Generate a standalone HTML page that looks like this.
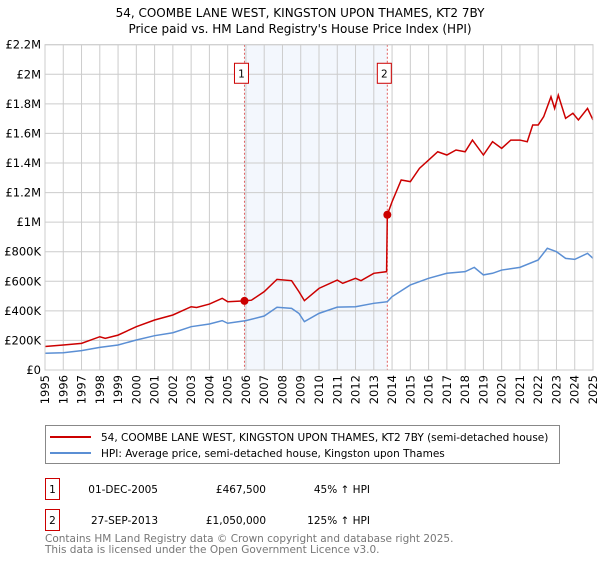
<!DOCTYPE html>
<html><head><meta charset="utf-8"><style>
body{margin:0;background:#fff;font-family:"DejaVu Sans","Liberation Sans",sans-serif;}
svg text{font-family:"DejaVu Sans","Liberation Sans",sans-serif;}
</style></head><body>
<svg id="chart" width="600" height="560" xmlns="http://www.w3.org/2000/svg">
<text x="300" y="17" text-anchor="middle" font-size="12" fill="#000">54, COOMBE LANE WEST, KINGSTON UPON THAMES, KT2 7BY</text>
<text x="300" y="33" text-anchor="middle" font-size="12" fill="#000">Price paid vs. HM Land Registry's House Price Index (HPI)</text>
<g id="plot"></g>
<g>
<rect x="45.5" y="425.5" width="514" height="38" fill="#fff" stroke="#888"/>
<line x1="50" y1="437" x2="91" y2="437" stroke="#cc0000" stroke-width="2"/>
<text x="101" y="441" font-size="10.5">54, COOMBE LANE WEST, KINGSTON UPON THAMES, KT2 7BY (semi-detached house)</text>
<line x1="50" y1="453" x2="91" y2="453" stroke="#5b8fd4" stroke-width="2"/>
<text x="101" y="457" font-size="10.5">HPI: Average price, semi-detached house, Kingston upon Thames</text>
</g>
<g font-size="10.5">
<rect x="45.5" y="478.5" width="14" height="21" fill="#fff" stroke="#cc0000"/>
<text x="52.5" y="493" text-anchor="middle">1</text>
<text x="158" y="493" text-anchor="end">01-DEC-2005</text>
<text x="266" y="493" text-anchor="end">£467,500</text>
<text x="370" y="493" text-anchor="end">45% ↑ HPI</text>
<rect x="45.5" y="509.5" width="14" height="21" fill="#fff" stroke="#cc0000"/>
<text x="52.5" y="524" text-anchor="middle">2</text>
<text x="158" y="524" text-anchor="end">27-SEP-2013</text>
<text x="266" y="524" text-anchor="end">£1,050,000</text>
<text x="370" y="524" text-anchor="end">125% ↑ HPI</text>
</g>
<text x="45" y="542" font-size="10.5" fill="#777">Contains HM Land Registry data © Crown copyright and database right 2025.</text>
<text x="45" y="553" font-size="10.5" fill="#777">This data is licensed under the Open Government Licence v3.0.</text>
</svg>
<script>
const yTicks=[0,200000,400000,600000,800000,1000000,1200000,1400000,1600000,1800000,2000000,2200000];
const yTickLabels=["£0","£200K","£400K","£600K","£800K","£1M","£1.2M","£1.4M","£1.6M","£1.8M","£2M","£2.2M"];
const xYears=[1995,1996,1997,1998,1999,2000,2001,2002,2003,2004,2005,2006,2007,2008,2009,2010,2011,2012,2013,2014,2015,2016,2017,2018,2019,2020,2021,2022,2023,2024,2025];
const hpiDates=[1995,1996,1997,1998,1999,2000,2001,2002,2003,2004,2004.7,2005,2006,2007,2007.7,2008.5,2008.9,2009.2,2010,2011,2012,2013,2013.74,2014,2015,2016,2017,2018,2018.5,2019,2019.5,2020,2021,2022,2022.5,2023,2023.5,2024,2024.7,2025];
const hpiValues=[113000,117000,131000,153000,169000,203000,232000,252000,293000,311000,334000,316000,334000,365000,424000,417000,383000,327000,383000,425000,428000,451000,462000,496000,575000,620000,654000,665000,694000,643000,654000,676000,694000,744000,823000,800000,755000,748000,789000,755000];
const priceDates=[1995,1996,1997,1998,1998.3,1999,2000,2001,2002,2003,2003.3,2004,2004.7,2005,2005.92,2006.3,2007,2007.7,2008.5,2008.9,2009.2,2010,2011,2011.3,2012,2012.3,2013,2013.7,2013.74,2014,2014.5,2015,2015.5,2016,2016.5,2017,2017.5,2018,2018.4,2019,2019.5,2020,2020.5,2021,2021.4,2021.7,2022,2022.3,2022.7,2022.9,2023.1,2023.5,2023.9,2024.2,2024.7,2025];
const priceValues=[159000,169000,180000,225000,214000,236000,293000,338000,372000,428000,423000,446000,485000,462000,467500,472000,530000,613000,604000,530000,469000,552000,608000,586000,620000,604000,654000,665000,1050000,1138000,1285000,1274000,1364000,1420000,1476000,1454000,1488000,1476000,1555000,1454000,1544000,1499000,1555000,1555000,1544000,1657000,1657000,1713000,1848000,1769000,1859000,1702000,1736000,1691000,1769000,1691000];
const saleDates=[2005.92,2013.74];
const saleValues=[467500,1050000];
const saleLabels=["1","2"];

const L=45,R=593,T=44.7,B=370;
const X=y=>L+(y-1995)/(2025-1995)*(R-L);
const Y=v=>B-v/2200000*(B-T);
const NS="http://www.w3.org/2000/svg";
const g=document.getElementById('plot');
function mk(tag,attrs,parent){const e=document.createElementNS(NS,tag);for(const k in attrs)e.setAttribute(k,attrs[k]);(parent||g).appendChild(e);return e;}
const bg=mk('rect',{x:L,y:T,width:R-L,height:B-T,fill:'#fff'});


const sh=mk('rect',{x:X(saleDates[0]),y:T,width:X(saleDates[1])-X(saleDates[0]),height:B-T,fill:'#eef3fc',opacity:0.7});


yTicks.forEach((v,i)=>{
 const l=mk('line',{x1:L,x2:R,y1:Y(v),y2:Y(v),stroke:'#cccccc'});
 
 
 const t=mk('text',{x:L-4,y:Y(v)+4,'text-anchor':'end','font-size':'11.5',fill:'#000'});
 t.textContent=yTickLabels[i];
 
 
});
xYears.forEach(yr=>{
 const l=mk('line',{x1:X(yr),x2:X(yr),y1:T,y2:B,stroke:'#cccccc'});
 
 
 const t=mk('text',{x:0,y:0,'text-anchor':'end','font-size':'11.5',fill:'#000',transform:`translate(${X(yr)+4},${B+5}) rotate(-90)`});
 t.textContent=yr;
 
 
});
saleDates.forEach((d,i)=>{
 const l=mk('line',{x1:X(d),x2:X(d),y1:T,y2:B,stroke:'#e06060','stroke-dasharray':'2,2'});
 
 
 const r=mk('rect',{x:X(d)-10,y:Y(2000000)-11,width:14,height:20,fill:'#fff',stroke:'#cc0000'});
 
 
 const t=mk('text',{x:X(d)-3,y:Y(2000000)+3,'text-anchor':'middle','font-size':'10.5'});
 t.textContent=saleLabels[i];
 
 
});
const hp=mk('polyline',{points:hpiDates.map((d,i)=>X(d)+','+Y(hpiValues[i])).join(' '),fill:'none',stroke:'#5b8fd4','stroke-width':1.5});


const pp=mk('polyline',{points:priceDates.map((d,i)=>X(d)+','+Y(priceValues[i])).join(' '),fill:'none',stroke:'#cc0000','stroke-width':1.5});


saleDates.forEach((d,i)=>{
 const c=mk('circle',{cx:X(d),cy:Y(saleValues[i]),r:4,fill:'#cc0000'});
 
 
});
const fr=mk('rect',{x:L,y:T,width:R-L,height:B-T,fill:'none',stroke:'#cccccc'});


</script>
</body></html>
